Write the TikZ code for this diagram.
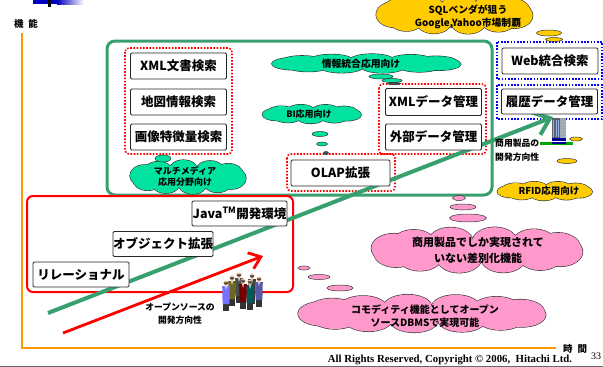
\documentclass[tikz,border=0pt]{standalone}
\usepackage{fontspec}
\setmainfont{Noto Sans CJK JP}
\newfontfamily\timesf{Liberation Serif}
\usetikzlibrary{shapes.geometric,arrows.meta}

\definecolor{axisorange}{RGB}{255,153,0}
\definecolor{groupgreen}{RGB}{56,160,110}
\definecolor{mint}{RGB}{0,226,160}
\definecolor{cloudyellow}{RGB}{255,204,0}
\definecolor{cloudpink}{RGB}{255,153,204}
\definecolor{skin}{RGB}{240,190,150}
\definecolor{towergrey}{RGB}{90,95,110}
\definecolor{windowblue}{RGB}{150,180,230}

% a puffy cloud: centre x, centre y, width, height, fill colour, number of puffs
\newcommand\puffcloud[6]{%
  \pgfmathsetmacro\cldrx{1.25*#3/#6}%
  \pgfmathsetmacro\cldry{0.32*#4}%
  \pgfmathsetmacro\cldax{#3/2-\cldrx}%
  \pgfmathsetmacro\clday{#4/2-\cldry}%
  \foreach \k in {1,...,#6} {%
    \draw[black!80, line width=1.2]
      ({#1+\cldax*cos(360*\k/#6+12)},{#2+\clday*sin(360*\k/#6+12)})
      ellipse ({\cldrx} and {\cldry});}%
  \fill[#5] (#1,#2) ellipse ({\cldax} and {\clday});%
  \foreach \k in {1,...,#6} {%
    \fill[#5]
      ({#1+\cldax*cos(360*\k/#6+12)},{#2+\clday*sin(360*\k/#6+12)})
      ellipse ({\cldrx} and {\cldry});}%
}

\tikzset{
  featbox/.style={draw=black!85, line width=0.9, fill=white, rounded corners=1.2,
    minimum width=96, minimum height=26, inner sep=0,
    font=\fontsize{12.5}{14}\selectfont\bfseries},
  reddots/.style={draw=red, line width=1.6, dash pattern=on 1.6pt off 1.6pt, rounded corners=4},
  bluedots/.style={draw=blue, line width=1.6, dash pattern=on 1.6pt off 1.6pt},
  bubble/.style={ellipse, draw=black!80, line width=0.5, inner sep=0},
  cloudtext/.style={font=\fontsize{9}{11}\selectfont\bfseries, align=center, inner sep=0},
  axislabel/.style={font=\fontsize{9.5}{11}\selectfont\bfseries, inner sep=0},
  trendtext/.style={font=\fontsize{8.8}{13.5}\selectfont\bfseries, inner sep=0},
  person/.pic={
    \fill[black!80] (-2.6,21) rectangle (-0.4,31);
    \fill[black!80] (0.4,21) rectangle (2.6,31);
    \fill[pic actions] (-3.8,6) -- (3.8,6) -- (3.4,24) -- (-3.4,24) -- cycle;
    \fill[white] (-0.8,6) -- (0.8,6) -- (0,10) -- cycle;
    \fill[skin] (0,3.2) ellipse (2.3 and 2.8);
    \fill[black!75] (-2.3,2.4) arc (180:0:2.3 and 2.2) -- cycle;
  },
}

\begin{document}
\begin{tikzpicture}[x=1pt,y=-1pt]
\useasboundingbox (0,0) rectangle (603,367);

% header strip
\fill[blue!75!black] (33,0) rectangle (57,4);
\shade[left color=blue!75!black, right color=white] (57,0) rectangle (84,4);
\fill[black] (48,0) rectangle (50.5,6.5);

% axes
\draw[axisorange, line width=2] (22,33) -- (22,348) -- (556,348);
\node[axislabel] (yaxis) at (26,24) {機\hspace{5pt}能};
\node[axislabel] (xaxis) at (575,349) {時\hspace{5pt}間};

% footer
\draw[black!60, line width=1.4] (0,366.5) -- (603,366.5);
\node[font=\timesf\fontsize{10.8}{12}\selectfont\bfseries, inner sep=0] (copy) at (450,359.5)
  {All Rights Reserved, Copyright © 2006,\ \ Hitachi Ltd.};
\node[font=\timesf\fontsize{10}{12}\selectfont, inner sep=0] (page) at (596,356) {33};

% group frames
\draw[groupgreen, line width=3, rounded corners=8] (107,41) rectangle (492,195);
\draw[red, line width=2, rounded corners=6] (27,196) rectangle (293,292);
\draw[reddots] (125,48) rectangle (232,154);
\draw[reddots] (379,84) rectangle (486,154);
\draw[reddots] (287,154) rectangle (395,191);
\draw[bluedots] (497,42) rectangle (602,79);
\draw[bluedots] (497,85) rectangle (602,119);

% development trends
\coordinate (gstart) at (48,313);
\coordinate (gend) at (553,117);
\coordinate (rstart) at (63,333);
\coordinate (rend) at (263,256);
\draw[groupgreen, line width=4, -{Straight Barb[length=15pt, width=24pt, line width=4pt]}] (gstart) -- (gend);
\draw[red, line width=2.8, -{Straight Barb[length=11pt, width=17pt, line width=2.8pt]}] (rstart) -- (rend);

% feature boxes
\node[featbox] (xmldoc) at (178.5,66) {XML文書検索};
\node[featbox] (geo) at (178.5,102) {地図情報検索};
\node[featbox] (image) at (178.5,137) {画像特徴量検索};
\node[featbox, minimum height=27] (xmldata) at (433.5,102) {XMLデータ管理};
\node[featbox] (extdata) at (433.5,137) {外部データ管理};
\node[featbox, minimum width=99] (olap) at (340.5,173) {OLAP拡張};
\node[featbox] (web) at (550,61) {Web統合検索};
\node[featbox, minimum height=25] (hist) at (549.5,101.5) {履歴データ管理};
\node[featbox, minimum width=95, minimum height=25] (java) at (239.5,213.5) {Java\textsuperscript{TM}開発環境};
\node[featbox, minimum height=25] (object) at (163,244) {オブジェクト拡張};
\node[featbox, minimum height=25] (relational) at (81,274.5) {リレーショナル};

% building
\fill[green!65!black] (540,141.5) rectangle (573,145);
\fill[towergrey] (552,118) rectangle (560,143);
\fill[black!35] (560,118) rectangle (566,143);
\foreach \xx in {553.5,556,558.5} {
  \draw[windowblue, line width=0.6] (\xx,120) -- (\xx,137);
}
\foreach \yy in {121,124,...,136} {
  \draw[windowblue, line width=0.7] (560.5,\yy) -- (565.5,\yy);
}
\fill[blue!60!black] (552,138) rectangle (566,144);
\draw[white, line width=0.4] (552,141) -- (566,141);

% people
\pic[fill=olive!70!black] at (232,275) {person};
\pic[fill=black!70] at (239,272) {person};
\pic[fill=black!75] at (252,273) {person};
\pic[fill=blue!30!gray] at (259,276) {person};
\pic[fill=teal!70!black] at (250,279) {person};
\pic[fill=red!45!black] at (243,278) {person};
\pic[fill=blue!55!white] at (226,280) {person};

% trend labels
\node[trendtext, align=center] (ostext) at (180,313.5) {オープンソースの\\開発方向性};
\node[trendtext, align=left, anchor=west] (comtext) at (495,150) {商用製品の\\開発方向性};

% clouds and their trailing bubbles
\puffcloud{455}{14}{158}{40}{cloudyellow}{11}
\node[cloudtext, font=\fontsize{9.8}{12.5}\selectfont\bfseries] (sqltext) at (468,17) {SQLベンダが狙う\\Google,Yahoo市場制覇};
\node[bubble, fill=cloudyellow, minimum width=25, minimum height=6] (sqlb1) at (549,33) {};
\node[bubble, fill=cloudyellow, minimum width=17, minimum height=4] (sqlb2) at (554,39.5) {};

\puffcloud{367}{63.5}{191}{19}{mint}{11}
\node[cloudtext, font=\fontsize{9.8}{11}\selectfont\bfseries] (infotext) at (361,63.5) {情報統合応用向け};
\node[bubble, fill=mint, minimum width=24, minimum height=5] (infob1) at (381,76.5) {};
\node[bubble, fill=mint, minimum width=20, minimum height=4] (infob2) at (392,80.5) {};
\node[bubble, fill=black!70, minimum width=13, minimum height=2.5] (infob3) at (394,83.5) {};

\puffcloud{312}{114}{100}{19}{mint}{9}
\node[cloudtext] (bitext) at (309,114.5) {BI応用向け};
\node[bubble, fill=mint, minimum width=16, minimum height=5] (bib1) at (320,134) {};
\node[bubble, fill=mint, minimum width=11, minimum height=4] (bib2) at (322,144) {};
\node[bubble, fill=black!70, minimum width=5, minimum height=3] (bib3) at (326,153) {};

\puffcloud{188}{177}{118}{34}{mint}{10}
\node[cloudtext] (mmtext) at (185,177) {マルチメディア\\応用分野向け};
\node[bubble, fill=mint, minimum width=16, minimum height=7] (mmb1) at (163,158.5) {};

\puffcloud{545}{191}{96}{19}{cloudyellow}{9}
\node[cloudtext, font=\fontsize{9.5}{11}\selectfont\bfseries] (rfidtext) at (549,191) {RFID応用向け};
\node[bubble, fill=cloudyellow, minimum width=13, minimum height=4] (rfidb1) at (576,139) {};
\node[bubble, fill=cloudyellow, minimum width=20, minimum height=5] (rfidb2) at (567,161) {};

\puffcloud{477}{250}{215}{46}{cloudpink}{12}
\node[cloudtext, font=\fontsize{11}{16}\selectfont\bfseries] (difftext) at (478,250) {商用製品でしか実現されて\\いない差別化機能};
\node[bubble, fill=cloudpink, minimum width=13, minimum height=5] (diffb1) at (459,198) {};
\node[bubble, fill=cloudpink, minimum width=26, minimum height=6] (diffb2) at (463,207) {};
\node[bubble, fill=cloudpink, minimum width=37, minimum height=8] (diffb3) at (468,218) {};

\puffcloud{423}{313.5}{250}{38}{cloudpink}{13}
\node[cloudtext, font=\fontsize{10}{13.5}\selectfont\bfseries] (commodtext) at (425,316) {コモディティ機能としてオープン\\ソースDBMSで実現可能};
\node[bubble, fill=cloudpink, minimum width=12, minimum height=4] (comb1) at (304,268) {};
\node[bubble, fill=cloudpink, minimum width=22, minimum height=5] (comb2) at (319,277) {};
\node[bubble, fill=cloudpink, minimum width=26, minimum height=6] (comb3) at (340,288) {};
\end{tikzpicture}
\end{document}
